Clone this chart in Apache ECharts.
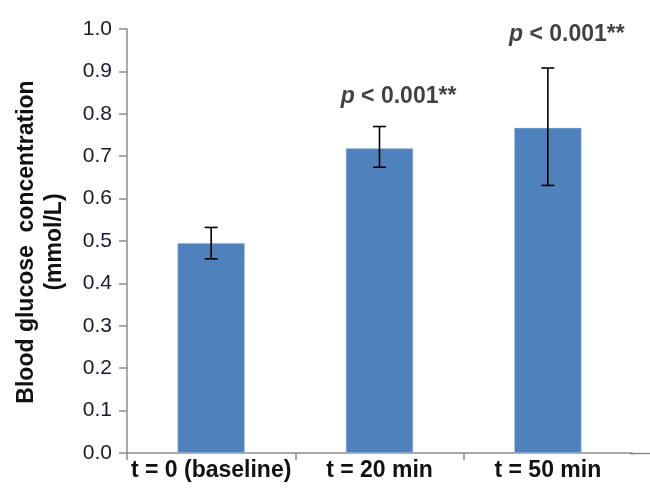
<!DOCTYPE html>
<html><head><meta charset="utf-8">
<script src="https://cdn.jsdelivr.net/npm/echarts@6/dist/echarts.min.js"></script>
<style>html,body{margin:0;padding:0;background:#fff}#c{width:650px;height:490px}</style>
</head><body><div id="c"></div>
<script>
const categories = ['t = 0 (baseline)', 't = 20 min', 't = 50 min'];
const means = [0.495, 0.719, 0.767];
const errLow = [0.458, 0.674, 0.631];
const errHigh = [0.532, 0.770, 0.908];
const yTicks = [0, 0.1, 0.2, 0.3, 0.4, 0.5, 0.6, 0.7, 0.8, 0.9, 1.0];
const annotations = ['', 'p < 0.001**', 'p < 0.001**'];
const annotationY = [null, 0.84, 0.986];

const chart = echarts.init(document.getElementById('c'));
const font = 'Arial, "Liberation Sans", sans-serif';
chart.setOption({
  animation: false,
  grid: {left: 127, right: 18, top: 29, bottom: 37},
  xAxis: {
    type: 'category', data: categories,
    axisLine: {lineStyle: {color: '#8c8c8c', width: 1.5}},
    axisTick: {show: true, length: 7, lineStyle: {color: '#8c8c8c', width: 1.5}},
    axisLabel: {color: '#111', fontFamily: font, fontWeight: 'bold', fontSize: 23, margin: 6, interval: 0}
  },
  yAxis: {
    type: 'value', min: 0, max: 1, interval: 0.1,
    axisLine: {show: true, lineStyle: {color: '#8c8c8c', width: 1.5}},
    axisTick: {show: true, inside: false, length: 8, lineStyle: {color: '#8c8c8c', width: 1.5}},
    splitLine: {show: false},
    axisLabel: {color: '#1a1a2a', fontFamily: font, fontSize: 21, margin: 15,
      formatter: v => yTicks.includes(Math.round(v * 10) / 10) ? v.toFixed(1) : ''}
  },
  graphic: [
    {
      type: 'text', x: 13, y: 242, rotation: Math.PI / 2,
      style: {
        text: 'Blood glucose  concentration\n(mmol/L)', align: 'center', verticalAlign: 'top',
        lineHeight: 28, font: 'bold 23px ' + font, fill: '#111'
      }
    },
    {type: 'rect', zlevel: 1, shape: {x: 628, y: 454.6, width: 8, height: 10}, style: {fill: '#fff'}},
    {type: 'line', zlevel: 1, shape: {x1: 630, y1: 453.5, x2: 650, y2: 453.5}, style: {stroke: '#8c8c8c', lineWidth: 1.5}}
  ],
  series: [
    {
      type: 'bar', data: means, barWidth: '40%',
      itemStyle: {color: '#4f81bd', borderColor: '#c4d3e8', borderWidth: 0.5}
    },
    {
      type: 'custom',
      data: means.map((m, i) => [i, errLow[i], errHigh[i]]),
      renderItem: function (params, api) {
        const x = api.coord([api.value(0), 0])[0];
        const lo = api.coord([api.value(0), api.value(1)])[1];
        const hi = api.coord([api.value(0), api.value(2)])[1];
        const w = 6.5;
        const st = {stroke: '#000', lineWidth: 1.6};
        return {type: 'group', children: [
          {type: 'line', shape: {x1: x, y1: lo, x2: x, y2: hi}, style: st},
          {type: 'line', shape: {x1: x - w, y1: lo, x2: x + w, y2: lo}, style: st},
          {type: 'line', shape: {x1: x - w, y1: hi, x2: x + w, y2: hi}, style: st}
        ]};
      },
      z: 5
    },
    {
      type: 'scatter',
      data: annotationY.map((y, i) => y === null ? [i, null] : [i, y]),
      symbolSize: 0,
      label: {
        show: true, position: 'inside', offset: [19, 0],
        formatter: p => annotations[p.dataIndex] ? '{i|p}{b| < 0.001**}' : '',
        rich: {
          i: {fontFamily: font, fontStyle: 'italic', fontWeight: 'bold', fontSize: 23, color: '#111'},
          b: {fontFamily: font, fontWeight: 'bold', fontSize: 23, color: '#111'}
        }
      }
    }
  ]
});
</script></body></html>
